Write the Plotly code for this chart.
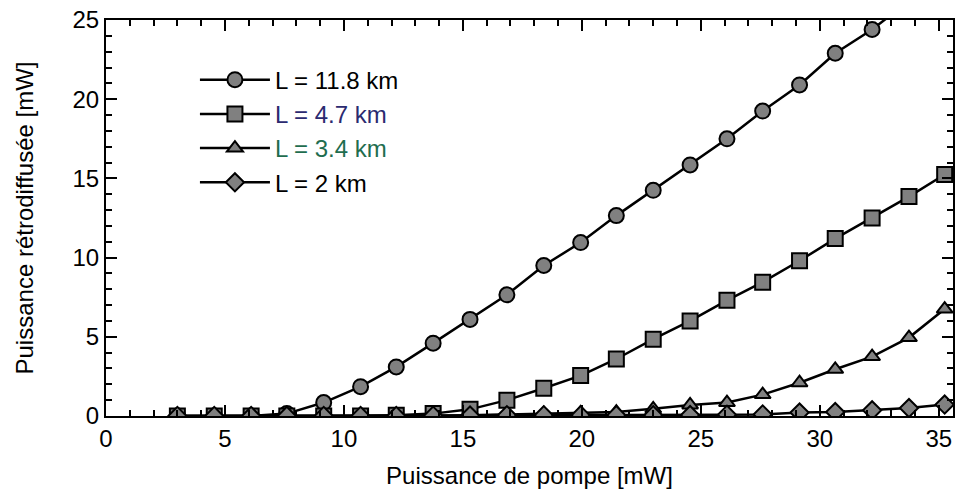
import plotly.graph_objects as go

# Pump power [mW]
pump = [3.0, 4.55, 6.1, 7.6, 9.15, 10.7, 12.2, 13.75, 15.3, 16.85, 18.4,
        19.95, 21.45, 23.0, 24.55, 26.1, 27.6, 29.15, 30.65, 32.2, 33.75, 35.25]

# Backscattered power [mW]
p_11_8 = [0.0, 0.0, 0.0, 0.15, 0.85, 1.85, 3.1, 4.6, 6.1, 7.65, 9.5,
          10.95, 12.65, 14.25, 15.85, 17.5, 19.25, 20.9, 22.9, 24.4, 26.2]
p_4_7 = [0.0, 0.0, 0.0, 0.0, 0.0, 0.0, 0.05, 0.15, 0.42, 1.0, 1.75,
         2.55, 3.6, 4.85, 6.0, 7.3, 8.45, 9.8, 11.2, 12.5, 13.85, 15.25]
p_3_4 = [0.0, 0.0, 0.0, 0.0, 0.0, 0.0, 0.0, 0.02, 0.05, 0.1, 0.15,
         0.2, 0.25, 0.45, 0.7, 0.85, 1.35, 2.1, 2.95, 3.75, 4.95, 6.75]
p_2 = [0.0, 0.0, 0.0, 0.0, 0.0, 0.0, 0.0, 0.02, 0.03, 0.05, 0.05,
       0.05, 0.05, 0.05, 0.06, 0.08, 0.1, 0.22, 0.25, 0.36, 0.5, 0.72]

labels = ["L = 11.8 km", "L = 4.7 km", "L = 3.4 km", "L = 2 km"]
label_colors = ["#000000", "#2b2a70", "#1f6d4f", "#000000"]

FONT = "Liberation Sans, Arial, sans-serif"
fill = "#808080"

def tr(y, name, color, symbol, size, rank):
    return go.Scatter(
        x=pump[:len(y)], y=y, mode="lines+markers",
        name=f'<span style="color:{color}">{name}</span>',
        legendrank=rank,
        line=dict(color="black", width=2.5),
        marker=dict(symbol=symbol, size=size, color=fill,
                    line=dict(color="black", width=2)),
    )

fig = go.Figure()
fig.add_trace(tr(p_11_8, labels[0], label_colors[0], "circle", 15, 1))
fig.add_trace(tr(p_3_4, labels[2], label_colors[2], "triangle-up", 14, 3))
fig.add_trace(tr(p_4_7, labels[1], label_colors[1], "square", 15, 2))
fig.add_trace(tr(p_2, labels[3], label_colors[3], "diamond", 14, 4))

axis_common = dict(
    showline=True, linecolor="black", linewidth=2, mirror="ticks",
    ticks="inside", ticklen=11, tickwidth=2, tickcolor="black",
    showgrid=False, zeroline=False, automargin=False,
    tickfont=dict(family=FONT, size=24, color="black"),
)

fig.update_layout(
    width=956, height=497,
    margin=dict(l=106, r=3, t=20, b=81),
    paper_bgcolor="white", plot_bgcolor="white",
    font=dict(family=FONT, color="black"),
    xaxis=dict(range=[0, 35.6], dtick=5, tick0=0,
               minor=dict(dtick=1, ticks="inside", ticklen=6, tickwidth=2, tickcolor="black"),
               title=dict(text="Puissance de pompe [mW]", font=dict(family=FONT, size=24), standoff=16),
               **axis_common),
    yaxis=dict(range=[0, 25], dtick=5, tick0=0,
               minor=dict(dtick=1, ticks="inside", ticklen=6, tickwidth=2, tickcolor="black"),
               title=dict(text="Puissance rétrodiffusée [mW]", font=dict(family=FONT, size=24), standoff=32),
               **axis_common),
    legend=dict(x=0.105, y=0.905, xanchor="left", yanchor="top",
                bgcolor="rgba(0,0,0,0)", font=dict(family=FONT, size=24),
                traceorder="normal", itemwidth=70, tracegroupgap=0),
    showlegend=True,
)

fig.write_html("out.html", config={"displayModeBar": False},
               post_script="document.body.style.margin='0';document.body.style.overflow='hidden';")
